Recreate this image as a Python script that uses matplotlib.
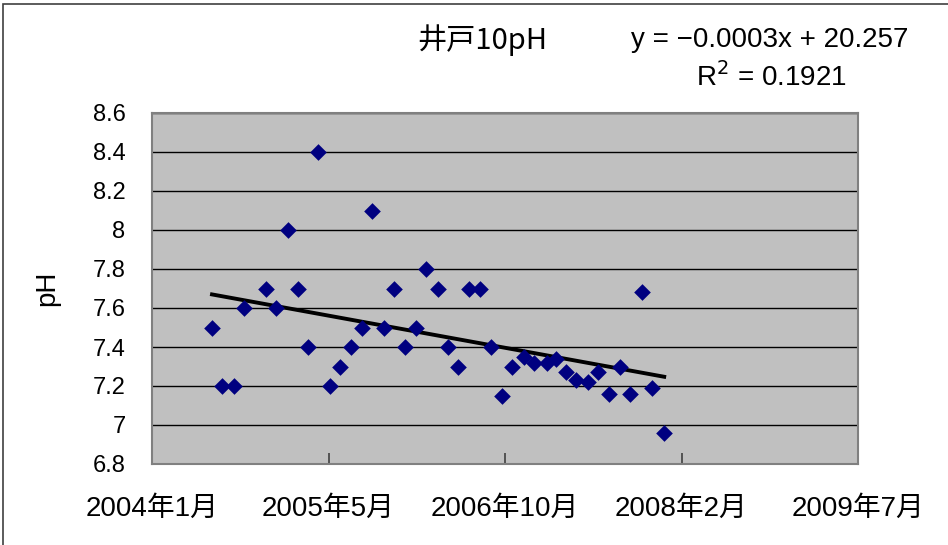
import numpy as np
import matplotlib.pyplot as plt
import matplotlib.dates as mdates
from matplotlib.ticker import FuncFormatter, MultipleLocator
from matplotlib.patches import Rectangle

# sampling dates and pH readings for well 10
dates = np.array([
    '2004-07-02', '2004-07-29', '2004-09-03', '2004-10-01', '2004-12-01',
    '2004-12-29', '2005-02-01', '2005-03-03', '2005-03-31', '2005-04-27',
    '2005-06-01', '2005-06-29', '2005-08-01', '2005-08-30', '2005-09-28',
    '2005-11-01', '2005-11-29', '2006-01-01', '2006-01-30', '2006-02-27',
    '2006-04-03', '2006-05-01', '2006-05-30', '2006-06-30', '2006-07-31',
    '2006-09-01', '2006-10-01', '2006-10-30', '2006-12-02', '2006-12-31',
    '2007-02-05', '2007-03-03', '2007-04-02', '2007-04-30', '2007-06-02',
    '2007-06-30', '2007-08-02', '2007-08-31', '2007-09-30', '2007-11-02',
    '2007-11-30', '2008-01-04'], dtype='datetime64[D]')
ph = [7.5, 7.2, 7.2, 7.6, 7.7, 7.6, 8.0, 7.7, 7.4, 8.4,
      7.2, 7.3, 7.4, 7.5, 8.1, 7.5, 7.7, 7.4, 7.5, 7.8,
      7.7, 7.4, 7.3, 7.7, 7.7, 7.4, 7.15, 7.3, 7.35, 7.32,
      7.32, 7.34, 7.27, 7.23, 7.22, 7.27, 7.16, 7.3, 7.16, 7.68,
      7.19, 6.96]

title = '井戸10pH'
eq_text = 'y = −0.0003x + 20.257'
r2_text = 'R$^2$ = 0.1921'

# axis bounds as spreadsheet serial days
excel_base = np.datetime64('1899-12-30')
x_min, x_max, x_step = 38000, 40000, 500

jp = ['Liberation Sans', 'Noto Sans CJK JP']
plt.rcParams['font.family'] = jp

fig = plt.figure(figsize=(9.48, 5.45), dpi=100)
ax = fig.add_axes([152 / 948, 1 - 464 / 545, 706 / 948, 351 / 545])

# outer chart frame
fig.patches.append(Rectangle((3 / 948, -0.1), 1.2, 1 - 4 / 545 + 0.1,
                             transform=fig.transFigure, fill=False,
                             edgecolor='#404040', linewidth=1.2))

ax.set_facecolor('#c0c0c0')
for s in ax.spines.values():
    s.set_color('#808080')
    s.set_linewidth(1.5)

xnum = mdates.date2num(dates)
ax.scatter(xnum, ph, marker='D', s=72, color='#000080', zorder=3,
           linewidths=0)

# linear trend over the sampled range
k, b = np.polyfit(xnum, ph, 1)
xl = np.array([xnum.min(), xnum.max()])
ax.plot(xl, k * xl + b, color='black', linewidth=2.8, zorder=2)

lo = mdates.date2num(excel_base + np.timedelta64(x_min, 'D'))
hi = mdates.date2num(excel_base + np.timedelta64(x_max, 'D'))
ax.set_xlim(lo, hi)
ax.set_xticks(np.arange(lo, hi + 1, x_step))
ax.xaxis.set_major_formatter(FuncFormatter(
    lambda v, p: '{}年{}月'.format(mdates.num2date(v).year,
                                   mdates.num2date(v).month)))

ax.set_ylim(6.8, 8.6)
ax.yaxis.set_major_locator(MultipleLocator(0.2))
ax.yaxis.set_major_formatter(FuncFormatter(lambda v, p: '{:g}'.format(round(v, 1))))
ax.grid(axis='y', color='black', linewidth=1)
ax.set_axisbelow(True)

ax.tick_params(axis='x', direction='in', length=8, width=1.2, color='#404040',
               labelsize=20, pad=23)
ax.tick_params(axis='y', direction='in', length=0, labelsize=17, pad=19)
ax.set_ylabel('pH', fontsize=20, labelpad=23)

fig.text(482 / 948, 1 - 40 / 545, title, fontsize=21, ha='center', va='center',
         family=['Noto Sans CJK JP'])
fig.text(770 / 948, 1 - 40 / 545, eq_text, fontsize=20, ha='center', va='center')
fig.text(771 / 948, 1 - 77 / 545, r2_text, fontsize=20, ha='center', va='center')

fig.savefig('out.png', dpi=100)
